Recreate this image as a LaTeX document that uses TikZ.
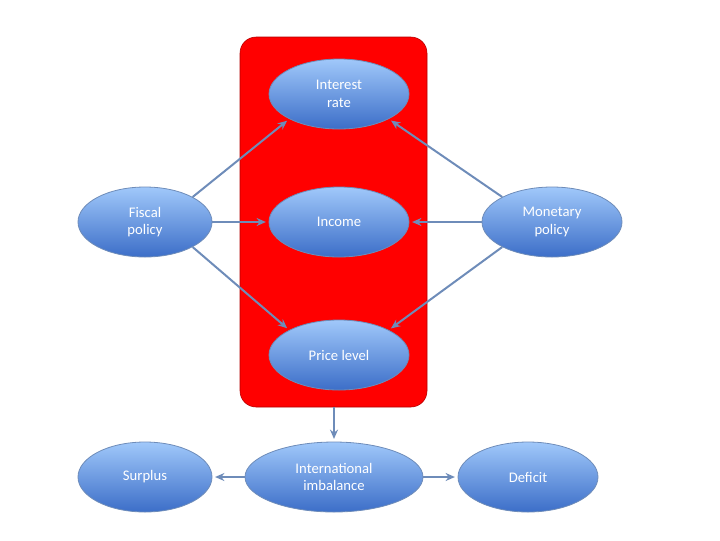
\documentclass[tikz,border=0pt]{standalone}
\usepackage{fontspec}
\setmainfont{Carlito}
\usetikzlibrary{shapes.geometric,arrows.meta}
\definecolor{ltop}{RGB}{160,200,250}
\definecolor{lbot}{RGB}{60,110,200}
\definecolor{lnk}{RGB}{110,140,185}
\begin{document}
\begin{tikzpicture}[x=0.75pt,y=-0.75pt,
 ell/.style={ellipse,draw=lnk,line width=0.6pt,top color=ltop,bottom color=lbot,text=white,font=\fontsize{11}{13}\selectfont,align=center,minimum width=#1*0.75pt,minimum height=52.5pt,inner sep=0pt},
 ell/.default=140,
 con/.style={draw=lnk,line width=1.5pt,shorten >=2pt,-{Stealth[length=7pt,width=6pt]}}]
\useasboundingbox (0,0) rectangle (720,540);
\node[draw=red!70!black,fill=red,rounded corners=12pt,minimum width=140.25pt,minimum height=277.5pt,inner sep=0pt] (box) at (333.5,222) {};
\node[ell] (ir) at (339,94) {Interest\\rate};
\node[ell=134] (fp) at (145,222) {Fiscal\\policy};
\node[ell] (inc) at (339,222) {Income};
\node[ell] (mp) at (552,222) {Monetary\\policy};
\node[ell] (pl) at (339,355) {Price level};
\node[ell=134] (sur) at (145,477) {Surplus};
\node[ell=178] (ii) at (334,477) {International\\imbalance};
\node[ell] (def) at (528,477) {Deficit};
\draw[con] (fp.north east) -- (ir.south west);
\draw[con] (fp) -- (inc);
\draw[con] (fp.south east) -- (pl.north west);
\draw[con] (mp.north west) -- (ir.south east);
\draw[con] (mp) -- (inc);
\draw[con] (mp.south west) -- (pl.north east);
\draw[con] (box.south -| ii) -- (ii);
\draw[con] (ii) -- (sur);
\draw[con] (ii) -- (def);
\end{tikzpicture}
\end{document}
